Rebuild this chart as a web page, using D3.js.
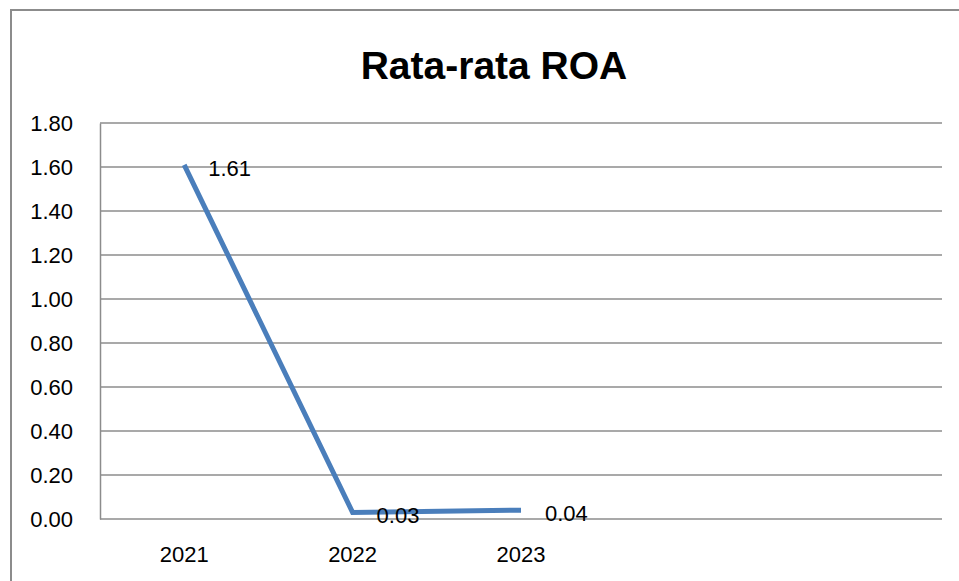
<!DOCTYPE html>
<html>
<head>
<meta charset="utf-8">
<script src="https://cdn.jsdelivr.net/npm/d3@7"></script>
<style>
  html, body { margin: 0; padding: 0; background: #fff; }
  svg { display: block; }
  text { font-family: "Liberation Sans", Arial, sans-serif; fill: #000; }
</style>
</head>
<body>
<svg id="chart" width="959" height="581"></svg>
<script>
// Average ROA per year
const title = "Rata-rata ROA";
const categories = ["2021", "2022", "2023", "", ""];
const roaValues = [1.61, 0.03, 0.04];
const yTicks = [0, 0.2, 0.4, 0.6, 0.8, 1.0, 1.2, 1.4, 1.6, 1.8];

const svg = d3.select("#chart");
const margin = { left: 100, right: 17, top: 123, bottom: 62 };
const W = 959, H = 581;

// Chart frame
svg.append("rect")
  .attr("x", 11).attr("y", 10)
  .attr("width", 1000).attr("height", 700)
  .attr("fill", "#fff")
  .attr("stroke", "#8c8c8c").attr("stroke-width", 2);

svg.append("text")
  .attr("x", 494).attr("y", 79)
  .attr("text-anchor", "middle")
  .attr("font-size", 39).attr("font-weight", "bold")
  .text(title);

const x = d3.scaleBand()
  .domain(d3.range(categories.length))
  .range([margin.left, W - margin.right]);

const y = d3.scaleLinear()
  .domain([0, 1.8])
  .range([H - margin.bottom, margin.top]);

// Horizontal gridlines
svg.append("g")
  .selectAll("line")
  .data(yTicks)
  .join("line")
  .attr("x1", margin.left).attr("x2", W - margin.right)
  .attr("y1", d => y(d)).attr("y2", d => y(d))
  .attr("stroke", "#8c8c8c").attr("stroke-width", 1.5);

// Y axis
const yAxis = svg.append("g")
  .attr("transform", `translate(${margin.left},0)`)
  .call(d3.axisLeft(y).tickValues(yTicks).tickFormat(d3.format(".2f")).tickSize(0).tickPadding(27));
yAxis.select(".domain").attr("stroke", "#8c8c8c").attr("stroke-width", 1.5);
yAxis.selectAll("text").attr("font-size", 22).attr("font-family", "Liberation Sans, Arial, sans-serif").attr("fill", "#000");

// X axis labels
const xAxis = svg.append("g")
  .attr("transform", `translate(0,${y(0)})`)
  .call(d3.axisBottom(x).tickFormat(i => categories[i]).tickSize(0).tickPadding(27));
xAxis.select(".domain").remove();
xAxis.selectAll("text").attr("font-size", 22).attr("font-family", "Liberation Sans, Arial, sans-serif").attr("fill", "#000");

const cx = i => x(i) + x.bandwidth() / 2;

// ROA line
const line = d3.line()
  .x((d, i) => cx(i))
  .y(d => y(d));

svg.append("path")
  .datum(roaValues)
  .attr("d", line)
  .attr("fill", "none")
  .attr("stroke", "#4a7ebb")
  .attr("stroke-width", 5)
  .attr("stroke-linejoin", "miter")
  .attr("stroke-linecap", "butt");

// Value labels
svg.append("g")
  .selectAll("text")
  .data(roaValues)
  .join("text")
  .attr("x", (d, i) => cx(i) + 24)
  .attr("y", d => y(d) + 11)
  .attr("font-size", 22)
  .text(d => d3.format(".2f")(d));
</script>
</body>
</html>
